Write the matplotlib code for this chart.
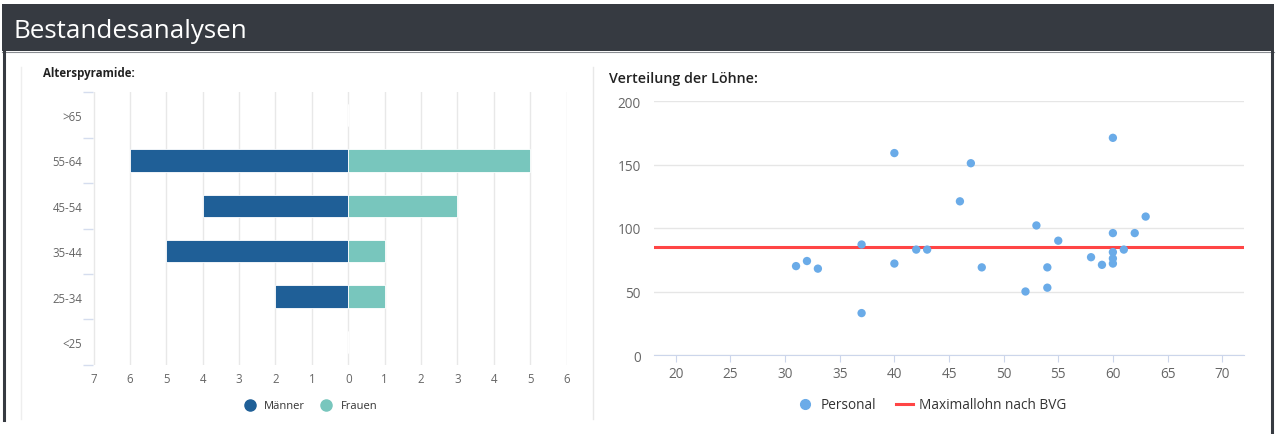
import matplotlib
matplotlib.use("Agg")
import matplotlib.pyplot as plt
from matplotlib.patches import Rectangle
from matplotlib.lines import Line2D
import numpy as np

# ---- data ----
kategorien = ['<25', '25-34', '35-44', '45-54', '55-64', '>65']
maenner = [0, 2, 5, 4, 6, 0]
frauen = [0, 1, 1, 3, 5, 0]
pyr_ticks = [-7, -6, -5, -4, -3, -2, -1, 0, 1, 2, 3, 4, 5, 6]

alter = [31, 32, 33, 37, 37, 40, 40, 42, 43, 46, 47, 48, 52, 53, 54, 54, 55,
         58, 59, 60, 60, 60, 60, 60, 61, 62, 63]
lohn = [70, 74, 68, 87, 33, 159, 72, 83, 83, 121, 151, 69, 50, 102, 69, 53, 90,
        77, 71, 171, 96, 81, 76, 72, 83, 96, 109]
bvg_max = 85.32
x_ticks = [20, 25, 30, 35, 40, 45, 50, 55, 60, 65, 70]
y_ticks = [0, 50, 100, 150, 200]

plt.rcParams['font.family'] = ['Open Sans', 'DejaVu Sans']

W, H = 1276, 435
fig = plt.figure(figsize=(W / 100, H / 100), dpi=100)
fig.patch.set_facecolor('white')

def rect(x0, y0, x1, y1, color, z=0):
    fig.add_artist(Rectangle((x0 / W, 1 - y1 / H), (x1 - x0) / W, (y1 - y0) / H,
                             transform=fig.transFigure, facecolor=color,
                             edgecolor='none', zorder=z))

def vline(x, y0, y1, color, lw):
    fig.add_artist(Line2D([x / W, x / W], [1 - y0 / H, 1 - y1 / H],
                          transform=fig.transFigure, color=color, lw=lw))

# header and frame
rect(2, 5, 1274, 52, '#363a41')
fig.add_artist(Line2D([2 / W, 1274 / W], [1 - 52.5 / H, 1 - 52.5 / H],
                      transform=fig.transFigure, color='#8a8d92', lw=0.8))
vline(3.5, 52, 421, '#363a41', 2.2)
vline(1272, 52, 435, '#363a41', 2.2)
fig.text(13 / W, 1 - 31 / H, 'Bestandesanalysen', color='white', fontsize=18.7,
         va='center', ha='left')
vline(21, 68, 420, '#eeeeee', 1)
vline(593, 68, 420, '#e8e8e8', 1)

# ---- left: Alterspyramide ----
ax1 = fig.add_axes([93.5 / W, 1 - 365.7 / H, (566.6 - 93.5) / W, (365.7 - 93.3) / H])
ypos = np.arange(len(kategorien))
c_m = '#1f5f97'
c_f = '#78c6bd'
ax1.barh(ypos, [-v for v in maenner], height=0.49, color=c_m, edgecolor='white', lw=0.6, zorder=3)
ax1.barh(ypos, frauen, height=0.49, color=c_f, edgecolor='white', lw=0.6, zorder=3)
ax1.set_xlim(-7, 6)
ax1.set_ylim(-0.5, len(kategorien) - 0.5)
ax1.set_xticks(pyr_ticks)
ax1.set_xticklabels([str(abs(t)) for t in pyr_ticks], fontsize=8.3, color='#666666')
ax1.set_yticks(ypos)
ax1.set_yticklabels(kategorien, fontsize=8.3, color='#666666')
ax1.set_yticks(np.arange(-0.5, len(kategorien), 1), minor=True)
ax1.tick_params(axis='y', which='major', length=0, pad=8)
ax1.tick_params(axis='y', which='minor', length=7, color='#d5ddee', width=1)
ax1.tick_params(axis='x', length=0, pad=5)
ax1.grid(axis='x', color='#e8e8e8', lw=1, zorder=0)
for s in ax1.spines.values():
    s.set_visible(False)
ax1.set_axisbelow(True)
fig.text(43 / W, 1 - 74 / H, 'Alterspyramide:', fontsize=8.3, fontweight='bold',
         color='#222222', va='center', ha='left')
h1 = [Line2D([], [], marker='o', ls='none', color=c_m, markersize=8, label='Männer'),
      Line2D([], [], marker='o', ls='none', color=c_f, markersize=8, label='Frauen')]
fig.legend(handles=h1, loc='center', bbox_to_anchor=(308 / W, 1 - 407 / H), ncol=2,
           frameon=False, fontsize=8, handletextpad=0.3, columnspacing=0.9,
           labelcolor='#333333')

# ---- right: Verteilung der Löhne ----
ax2 = fig.add_axes([654 / W, 1 - 356 / H, (1244 - 654) / W, (356 - 102) / H])
ax2.axhline(bvg_max, color='#ff4545', lw=2.2, zorder=2)
ax2.scatter(alter, lohn, s=36, color='#6aabe8', edgecolors='none', zorder=3)
ax2.set_xlim(18, 72)
ax2.set_ylim(0, 200)
ax2.set_xticks(x_ticks)
ax2.set_yticks(y_ticks)
ax2.tick_params(axis='x', length=5, color='#ccd6eb', labelsize=9.8, labelcolor='#666666', pad=3)
ax2.tick_params(axis='y', length=0, labelsize=9.8, labelcolor='#666666', pad=9.5)
ax2.grid(axis='y', color='#e6e6e6', lw=1, zorder=0)
for k, s in ax2.spines.items():
    s.set_visible(k == 'bottom')
ax2.spines['bottom'].set_color('#ccd6eb')
ax2.set_axisbelow(True)
fig.text(609 / W, 1 - 79 / H, 'Verteilung der Löhne:', fontsize=10.3, fontweight='semibold',
         color='#222222', va='center', ha='left')
h2 = [Line2D([], [], marker='o', ls='none', color='#6aabe8', markersize=7, label='Personal'),
      Line2D([], [], color='#ff4545', lw=2.2, label='Maximallohn nach BVG')]
fig.legend(handles=h2, loc='center', bbox_to_anchor=(932 / W, 1 - 406 / H), ncol=2,
           frameon=False, fontsize=9.8, handletextpad=0.5, columnspacing=1.5,
           handlelength=1.2, labelcolor='#333333')

fig.savefig('out.png', dpi=100)
